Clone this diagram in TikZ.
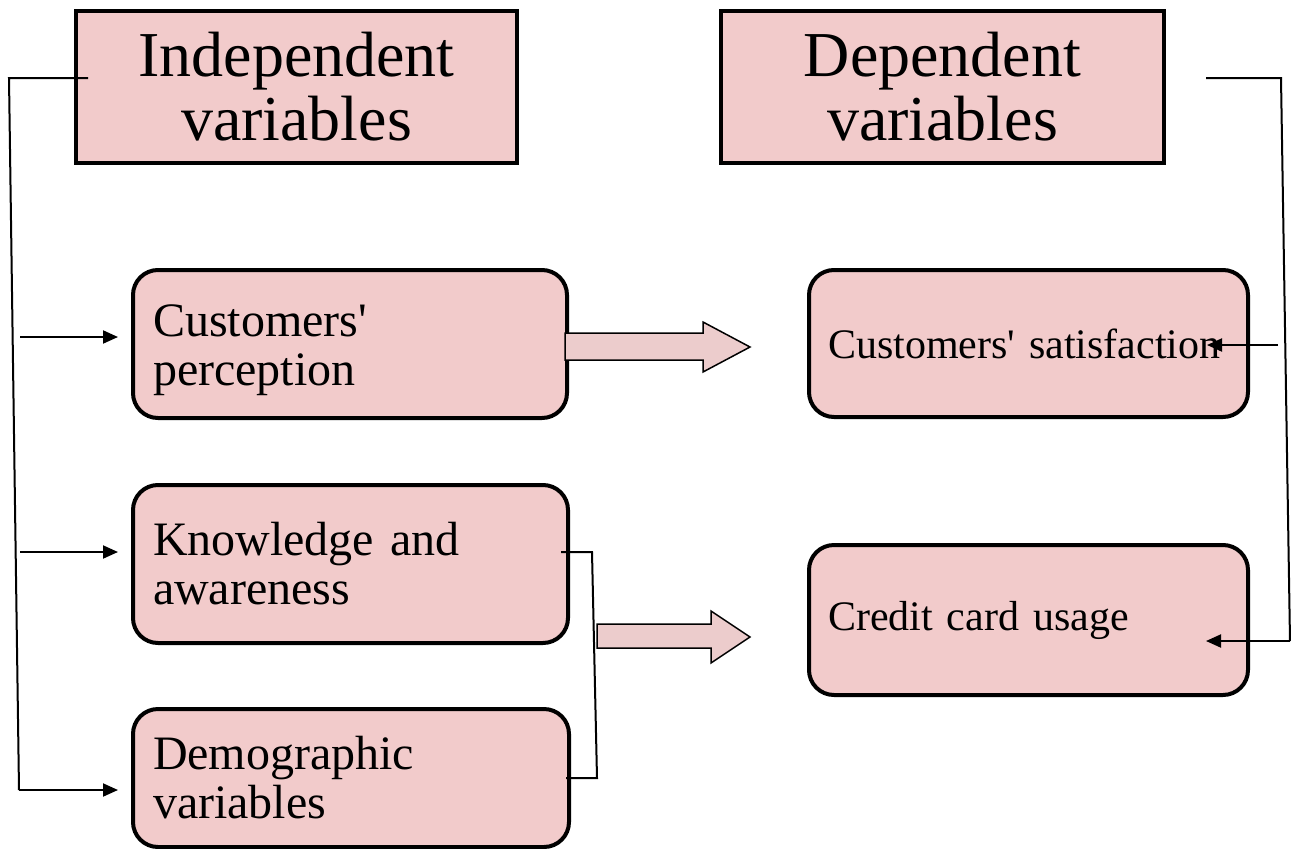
\documentclass[tikz,border=0pt]{standalone}
\usepackage{fontspec}
\setmainfont[WordSpace={1,0,0}]{Liberation Serif}
\usetikzlibrary{arrows.meta}
\definecolor{boxpink}{RGB}{242,203,203}
\definecolor{arrowpink}{RGB}{236,204,204}
\begin{document}
\begin{tikzpicture}[x=1pt,y=-1pt,
  titlebox/.style={draw=black,fill=boxpink,line width=4pt,outer sep=0pt,inner sep=0pt,align=center,
    font=\fontsize{64}{64}\selectfont},
  varbox/.style={draw=black,fill=boxpink,line width=4pt,rounded corners=25pt,outer sep=0pt,inner xsep=20pt,inner ysep=0pt,align=left,
    font=\fontsize{48}{49}\selectfont},
  depbox/.style={draw=black,fill=boxpink,line width=4pt,rounded corners=25pt,outer sep=0pt,inner xsep=19pt,inner ysep=0pt,align=left,
    font=\fontsize{42}{50}\selectfont},
  link/.style={draw=black,line width=2pt},
  linkarrow/.style={draw=black,line width=2pt,-{Triangle[length=15pt,width=13pt]}},
  blockarrow/.style={draw=black,line width=1.5pt,fill=arrowpink,line join=miter}
]
\useasboundingbox (0,0) rectangle (1291,849);

% title boxes
\node[titlebox,minimum width=441pt,minimum height=152pt] (indep) at (296.5,87) {Independent\\variables};
\node[titlebox,minimum width=443pt,minimum height=152pt] (dep) at (942.5,87) {Dependent\\variables};

% independent variable boxes
\node[varbox,minimum width=434pt,minimum height=148pt,text width=394pt] (perc) at (350,344) {\rule{0pt}{45pt}Customers\textquotesingle\\perception};
\node[varbox,minimum width=435pt,minimum height=158pt,text width=395pt] (know) at (350.5,564) {Knowledge and\\awareness};
\node[varbox,minimum width=436pt,minimum height=138pt,text width=396pt] (demo) at (351,778) {Demographic\\variables};

% dependent variable boxes
\node[depbox,minimum width=439pt,minimum height=147pt,text width=401pt] (sat) at (1028.5,343.5) {Customers\textquotesingle{} satisfaction};
\node[depbox,minimum width=439pt,minimum height=150pt,text width=401pt] (usage) at (1028.5,620) {Credit card usage};

% left bracket
\coordinate (lstart) at (88,78);
\coordinate (lcorner) at (9,78);
\coordinate (lbottom) at (19,790);
\coordinate (la) at (20,337);
\coordinate (lb) at (20,552);
\draw[link] (lstart) -- (lcorner) -- (lbottom);
\draw[linkarrow] (la) -- ([xshift=-15pt]perc.west |- la);
\draw[linkarrow] (lb) -- ([xshift=-15pt]know.west |- lb);
\draw[linkarrow] (lbottom) -- ([xshift=-15pt]demo.west |- lbottom);

% middle bracket
\coordinate (ma) at (561,552);
\coordinate (mb) at (592,552);
\coordinate (mc) at (597,778);
\coordinate (md) at (566,778);
\draw[link] (ma) -- (mb) -- (mc) -- (md);

% block arrows
\draw[blockarrow] (565,333) -- (703,333) -- (703,322) -- (750,347) -- (703,372) -- (703,360) -- (565,360) -- cycle;
\draw[blockarrow] (597,624) -- (711,624) -- (711,611) -- (750,637) -- (711,663) -- (711,648) -- (597,648) -- cycle;

% right bracket
\coordinate (rstart) at (1206,78);
\coordinate (rcorner) at (1281,78);
\coordinate (rbottom) at (1290,641);
\coordinate (ra) at (1278,345);
\draw[link] (rstart) -- (rcorner) -- (rbottom);
\draw[linkarrow] (ra) -- (1207,345);
\draw[linkarrow] (rbottom) -- (1206,641);
\end{tikzpicture}
\end{document}
